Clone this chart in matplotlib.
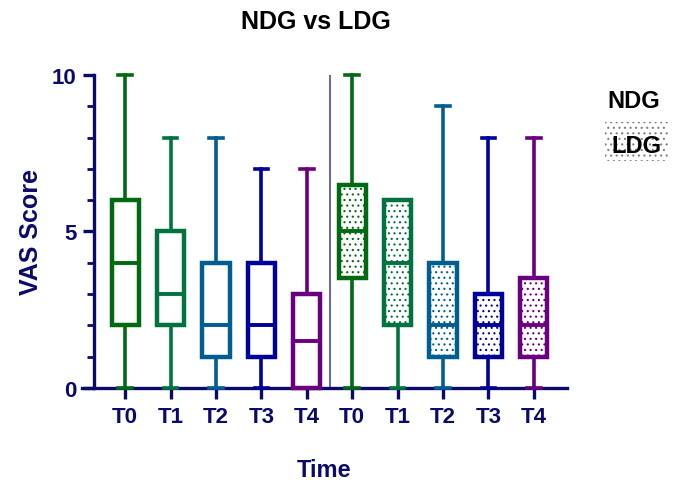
import numpy as np
import matplotlib
matplotlib.use('agg')
import matplotlib.pyplot as plt
from matplotlib.patches import Rectangle

plt.rcParams['font.family'] = ['Liberation Sans', 'DejaVu Sans']
plt.rcParams['hatch.linewidth'] = 0.8

# five-number summaries: min, q1, median, q3, max
times = ['T0', 'T1', 'T2', 'T3', 'T4']
ndg_min = [0, 0, 0, 0, 0]
ndg_q1 = [2, 2, 1, 1, 0]
ndg_med = [4, 3, 2, 2, 1.5]
ndg_q3 = [6, 5, 4, 4, 3]
ndg_max = [10, 8, 8, 7, 7]

ldg_min = [0, 0, 0, 0, 0]
ldg_q1 = [3.5, 2, 1, 1, 1]
ldg_med = [5, 4, 2, 2, 2]
ldg_q3 = [6.5, 6, 4, 3, 3.5]
ldg_max = [10, 6, 9, 8, 8]

colors = ['#006A10', '#00733F', '#005E90', '#00009A', '#6A0080']
navy = '#0A0A6E'

fig = plt.figure(figsize=(6.8, 4.81), dpi=100)
ax = fig.add_axes([0.1206, 0.1913, 0.7132, 0.6507])


def make_stats(mins, q1s, meds, q3s, maxs):
    out = []
    for i in range(len(mins)):
        out.append(dict(whislo=mins[i], q1=q1s[i], med=meds[i], q3=q3s[i],
                        whishi=maxs[i], fliers=[]))
    return out


groups = [(make_stats(ndg_min, ndg_q1, ndg_med, ndg_q3, ndg_max), 0, None),
          (make_stats(ldg_min, ldg_q1, ldg_med, ldg_q3, ldg_max), 5, '...')]

for stats, offset, hatch in groups:
    for i, st in enumerate(stats):
        c = colors[i]
        bp = ax.bxp([st], positions=[offset + i], widths=0.6, patch_artist=True,
                    showfliers=False, manage_ticks=False,
                    boxprops=dict(facecolor='white', edgecolor=c, linewidth=3.2,
                                  hatch=hatch),
                    medianprops=dict(color=c, linewidth=2.8, solid_capstyle='butt'),
                    whiskerprops=dict(color=c, linewidth=2.6),
                    capprops=dict(color=c, linewidth=2.6),
                    capwidths=0.3)
        for art in bp['boxes'] + bp['whiskers'] + bp['caps'] + bp['medians']:
            art.set_clip_on(False)
            art.set_zorder(3)

# separator between groups
ax.axvline(4.51, color='#4A4AA0', linewidth=1.2, zorder=1)

ax.set_xlim(-0.95, 9.73)
ax.set_ylim(0, 10)
ax.spines['top'].set_visible(False)
ax.spines['right'].set_visible(False)
ax.spines['left'].set_position(('data', -0.68))
for s in ['left', 'bottom']:
    ax.spines[s].set_color(navy)
    ax.spines[s].set_linewidth(2.4)
    ax.spines[s].set_zorder(2)

ax.set_xticks(range(10))
ax.set_xticklabels(times + times)
ax.set_yticks([0, 5, 10])
ax.set_yticks(np.arange(0, 11, 1), minor=True)
ax.tick_params(axis='both', which='major', colors=navy, width=2.4, length=8,
               direction='out', labelsize=16, pad=5)
ax.tick_params(axis='y', which='minor', colors=navy, width=2.0, length=5)
for lbl in ax.get_xticklabels() + ax.get_yticklabels():
    lbl.set_fontweight('bold')
    lbl.set_color(navy)

ax.set_ylabel('VAS Score', fontsize=18, fontweight='bold', color=navy, labelpad=6)
ax.set_xlabel('Time', fontsize=17, fontweight='bold', color=navy, labelpad=22)
fig.text(0.465, 0.955, 'NDG vs LDG', fontsize=18, fontweight='bold',
         ha='center', va='center')

# legend: plain text, LDG on a dotted patch
fig.text(0.932, 0.788, 'NDG', fontsize=17, fontweight='bold', ha='center', va='center')
fig.patches.append(Rectangle((0.890, 0.663), 0.093, 0.081, transform=fig.transFigure,
                             facecolor='white', edgecolor='#808080', linewidth=0,
                             hatch='...', zorder=1))
fig.text(0.936, 0.695, 'LDG', fontsize=17, fontweight='bold', ha='center', va='center',
         zorder=2)

fig.savefig('out.png', dpi=100)
